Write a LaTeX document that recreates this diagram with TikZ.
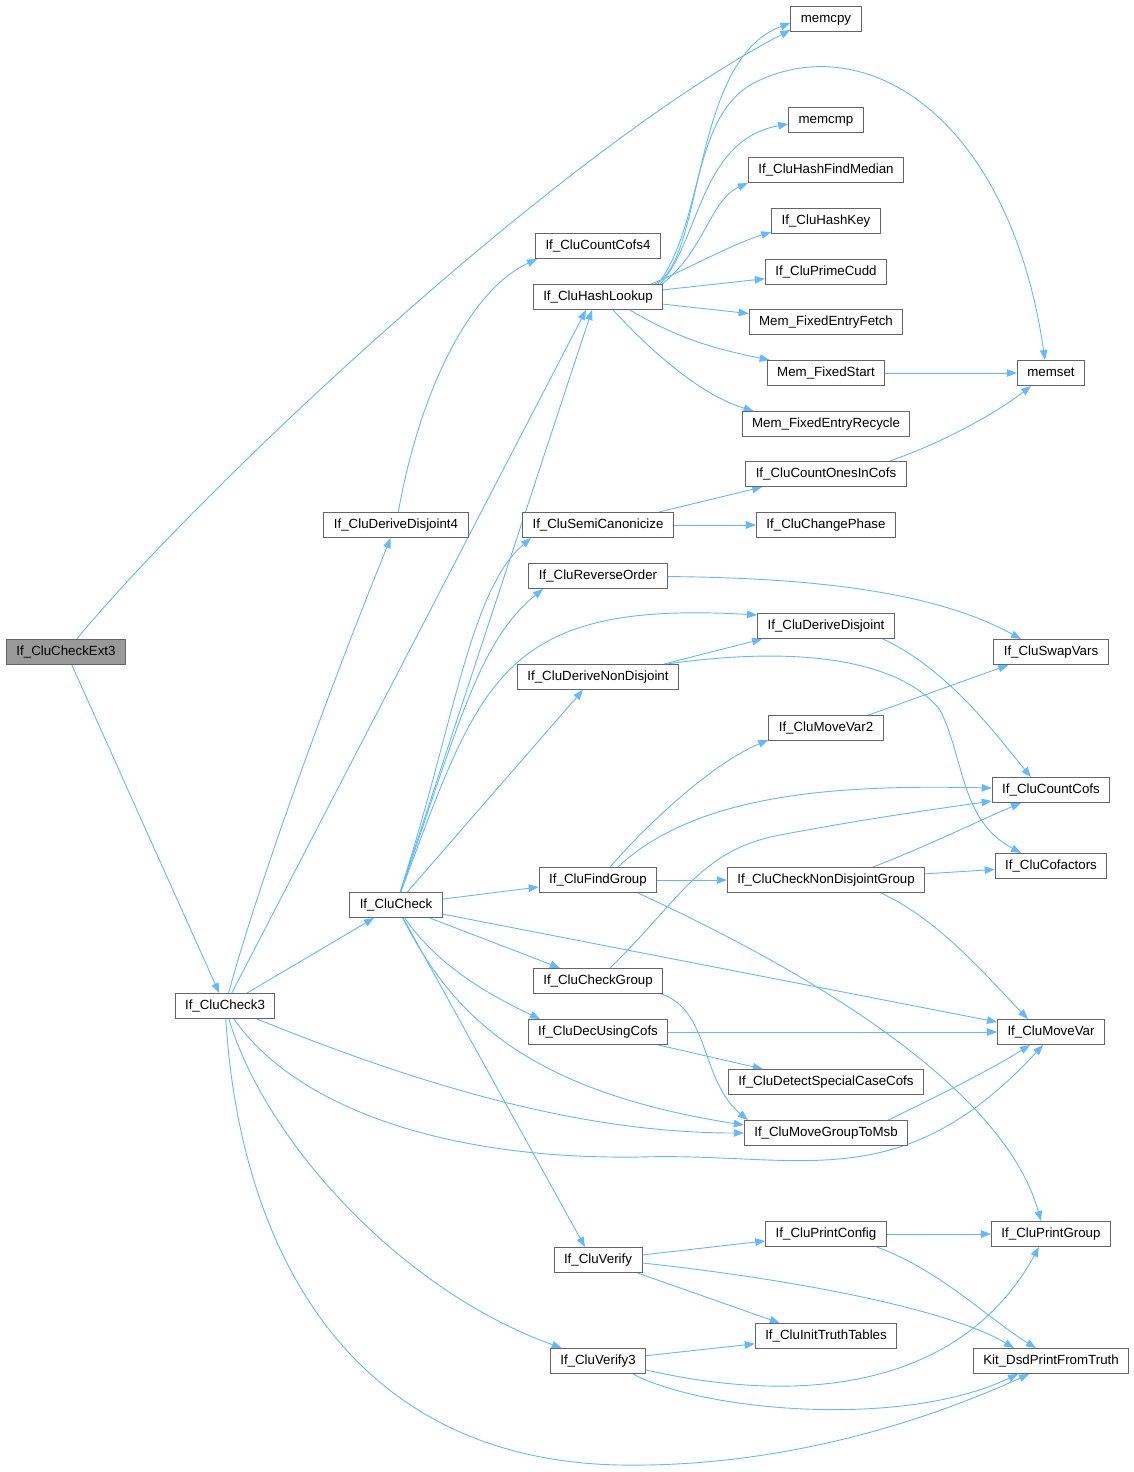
\documentclass[tikz,border=0pt]{standalone}
\usepackage{fontspec}
\setmainfont{Liberation Sans}
\usetikzlibrary{arrows.meta}
\pgfdeclarelayer{bg}
\pgfsetlayers{bg,main}
\definecolor{edgec}{HTML}{63B8FF}
\definecolor{nodeb}{HTML}{666666}
\definecolor{nodef}{HTML}{999999}
\begin{document}
\begin{tikzpicture}[x=1pt,y=-1pt,
 box/.style={draw=nodeb, fill=white, line width=1pt, minimum height=25pt, inner xsep=10pt, inner ysep=0pt,
   text height=9.6pt, text depth=2.8pt, font=\fontsize{13.3}{15}\selectfont},
 edge/.style={draw=edgec, line width=0.9pt, -{Triangle[length=10pt,width=7.5pt]}}]
\useasboundingbox (0,0) rectangle (1134,1472);
% nodes
\node[box, fill=nodef] (ext3) at (66,652) {If\_CluCheckExt3};
\node[box] (c3) at (225,1006) {If\_CluCheck3};
\node[box] (ck) at (396,905) {If\_CluCheck};
\node[box] (dd4) at (396,525) {If\_CluDeriveDisjoint4};
\node[box] (cc4) at (598,246) {If\_CluCountCofs4};
\node[box] (hl) at (598,297) {If\_CluHashLookup};
\node[box] (mcpy) at (826,19) {memcpy};
\node[box] (mcmp) at (826,120) {memcmp};
\node[box] (hfm) at (826,170) {If\_CluHashFindMedian};
\node[box] (hk) at (826,221) {If\_CluHashKey};
\node[box] (pc) at (826,272) {If\_CluPrimeCudd};
\node[box] (fef) at (826,322) {Mem\_FixedEntryFetch};
\node[box] (fs) at (826,373) {Mem\_FixedStart};
\node[box] (fer) at (826,424) {Mem\_FixedEntryRecycle};
\node[box] (mset) at (1051,373) {memset};
\node[box] (coic) at (826,474) {If\_CluCountOnesInCofs};
\node[box] (sc) at (598,525) {If\_CluSemiCanonicize};
\node[box] (cp) at (826,525) {If\_CluChangePhase};
\node[box] (ro) at (598,576) {If\_CluReverseOrder};
\node[box] (dd) at (826,626) {If\_CluDeriveDisjoint};
\node[box] (sv) at (1051,652) {If\_CluSwapVars};
\node[box] (dnd) at (598,677) {If\_CluDeriveNonDisjoint};
\node[box] (mv2) at (826,728) {If\_CluMoveVar2};
\node[box] (cc) at (1051,790) {If\_CluCountCofs};
\node[box] (fg) at (598,880) {If\_CluFindGroup};
\node[box] (cndg) at (826,880) {If\_CluCheckNonDisjointGroup};
\node[box] (cof) at (1051,866) {If\_CluCofactors};
\node[box] (cg) at (598,981) {If\_CluCheckGroup};
\node[box] (duc) at (598,1032) {If\_CluDecUsingCofs};
\node[box] (mv) at (1051,1032) {If\_CluMoveVar};
\node[box] (dscc) at (826,1082) {If\_CluDetectSpecialCaseCofs};
\node[box] (mgm) at (826,1133) {If\_CluMoveGroupToMsb};
\node[box] (pcfg) at (826,1234) {If\_CluPrintConfig};
\node[box] (pg) at (1051,1234) {If\_CluPrintGroup};
\node[box] (ver) at (598,1260) {If\_CluVerify};
\node[box] (itt) at (826,1336) {If\_CluInitTruthTables};
\node[box] (ver3) at (598,1361) {If\_CluVerify3};
\node[box] (kit) at (1051,1361) {Kit\_DsdPrintFromTruth};
% edges
\begin{pgfonlayer}{bg}
\draw[edge] (ext3) .. controls (200,490) and (560,150) .. ([yshift=-11pt]mcpy.west);
\draw[edge] (ext3) -- (c3);
% If_CluCheck3
\draw[edge] (c3) .. controls (265,860) and (345,650) .. (dd4);
\draw[edge] (c3) -- ([xshift=-12pt]hl.south);
\draw[edge] (c3) -- (ck);
\draw[edge] (c3) .. controls (420,1085) and (580,1133) .. (mgm);
\draw[edge] (c3) .. controls (290,1100) and (430,1160) .. (640,1157) .. controls (800,1152) and (900,1200) .. ([xshift=-8pt]mv.south);
\draw[edge] (c3) .. controls (265,1140) and (400,1290) .. (ver3);
\draw[edge] (c3) .. controls (240,1250) and (350,1460) .. (620,1465) .. controls (800,1468) and (950,1410) .. ([xshift=-22pt]kit.south);
% If_CluCheck
\draw[edge] (ck) -- ([xshift=-6pt]hl.south);
\draw[edge] (ck) .. controls (455,720) and (470,590) .. ([xshift=-67pt]sc.south);
\draw[edge] (ck) .. controls (460,720) and (480,640) .. ([xshift=-55pt]ro.south);
\draw[edge] (ck) .. controls (480,680) and (500,600) .. ([yshift=-2pt]dd.north west);
\draw[edge] (ck) -- ([xshift=-15pt]dnd.south);
\draw[edge] (ck) -- ([yshift=-7pt]fg.west);
\draw[edge] (ck) -- ([xshift=-38pt]cg.north);
\draw[edge] (ck) .. controls (440,970) and (500,1000) .. ([xshift=-58pt]duc.north);
\draw[edge] (ck) -- ([yshift=10pt]mv.west);
\draw[edge] (ck) .. controls (450,1010) and (520,1090) .. ([yshift=8pt]mgm.west);
\draw[edge] (ck) -- ([xshift=-13pt]ver.north);
% If_CluHashLookup
\draw[edge] ([xshift=-8pt]hl.north east) .. controls (705,260) and (690,60) .. ([yshift=-4pt]mcpy.west);
\draw[edge] ([xshift=-5pt]hl.north east) .. controls (705,220) and (690,110) .. (760,80) .. controls (870,30) and (1010,120) .. ([xshift=-6pt]mset.north);
\draw[edge] ([xshift=-3pt]hl.north east) .. controls (700,240) and (700,140) .. ([yshift=-4pt]mcmp.west);
\draw[edge] ([xshift=-1pt]hl.north east) .. controls (705,250) and (710,200) .. (hfm.south west);
\draw[edge] ([xshift=-12pt]hl.north east) .. controls (690,268) and (730,245) .. ([yshift=2pt]hk.south west);
\draw[edge] (hl) -- (pc);
\draw[edge] (hl) -- (fef);
\draw[edge] ([xshift=32pt]hl.south) .. controls (680,340) and (720,350) .. ([xshift=3pt]fs.north west);
\draw[edge] ([xshift=15pt]hl.south) .. controls (650,350) and (700,395) .. ([xshift=12pt]fer.north west);
\draw[edge] (fs) -- (mset);
\draw[edge] ([xshift=-17pt]coic.north east) .. controls (950,440) and (1000,410) .. ([xshift=-20pt]mset.south);
\draw[edge] (dd4) .. controls (420,390) and (470,290) .. ([xshift=2pt]cc4.south west);
\draw[edge] ([xshift=-15pt]sc.north east) -- ([xshift=17pt]coic.south west);
\draw[edge] (sc) -- (cp);
\draw[edge] (ro) .. controls (850,578) and (950,600) .. ([xshift=-30pt]sv.north);
\draw[edge] ([xshift=-12pt]dd.south east) .. controls (950,670) and (1000,740) .. ([xshift=-20pt]cc.north);
\draw[edge] ([xshift=-15pt]dnd.north east) -- ([xshift=5pt]dd.south west);
\draw[edge] ([xshift=-12pt]dnd.north east) .. controls (800,645) and (900,660) .. (940,710) .. controls (965,760) and (960,820) .. ([xshift=-30pt]cof.north);
\draw[edge] ([xshift=-15pt]mv2.north east) -- ([xshift=15pt]sv.south west);
% If_CluFindGroup
\draw[edge] ([xshift=12pt]fg.north) .. controls (660,810) and (720,760) .. ([yshift=1pt]mv2.south west);
\draw[edge] ([xshift=20pt]fg.north) .. controls (700,790) and (850,785) .. ([yshift=2pt]cc.west);
\draw[edge] (fg) -- (cndg);
\draw[edge] ([xshift=40pt]fg.south) .. controls (870,1000) and (1010,1110) .. ([xshift=-10pt]pg.north);
\draw[edge] ([xshift=47pt]cndg.north) .. controls (930,845) and (980,820) .. ([xshift=-30pt]cc.south);
\draw[edge] (cndg) -- (cof);
\draw[edge] ([xshift=55pt]cndg.south) .. controls (940,920) and (990,980) .. ([xshift=-23pt]mv.north);
% If_CluCheckGroup
\draw[edge] ([xshift=12pt]cg.north) .. controls (680,900) and (700,850) .. (780,835) .. controls (870,818) and (930,810) .. ([yshift=-11pt]cc.west);
\draw[edge] ([xshift=-2pt]cg.south east) .. controls (710,1010) and (700,1080) .. ([xshift=4pt]mgm.north west);
\draw[edge] (duc) -- (mv);
\draw[edge] ([xshift=-10pt]duc.south east) -- ([xshift=35pt]dscc.north west);
\draw[edge] ([xshift=-20pt]mgm.north east) .. controls (940,1095) and (990,1070) .. ([xshift=-21pt]mv.south);
% Verify
\draw[edge] (ver) -- (pcfg);
\draw[edge] ([xshift=-5pt]ver.south east) -- ([xshift=25pt]itt.north west);
\draw[edge] ([yshift=-3pt]ver.east) .. controls (800,1280) and (950,1310) .. ([xshift=-37pt]kit.north);
\draw[edge] (pcfg) -- (pg);
\draw[edge] ([xshift=-10pt]pcfg.south east) .. controls (940,1270) and (990,1320) .. ([xshift=-15pt]kit.north);
\draw[edge] (ver3) -- (itt);
\draw[edge] ([yshift=-9pt]ver3.east) .. controls (800,1405) and (960,1390) .. ([xshift=-12pt]pg.south);
\draw[edge] ([xshift=35pt]ver3.south) .. controls (700,1410) and (900,1430) .. ([xshift=-33pt]kit.south);
\end{pgfonlayer}
\end{tikzpicture}
\end{document}
